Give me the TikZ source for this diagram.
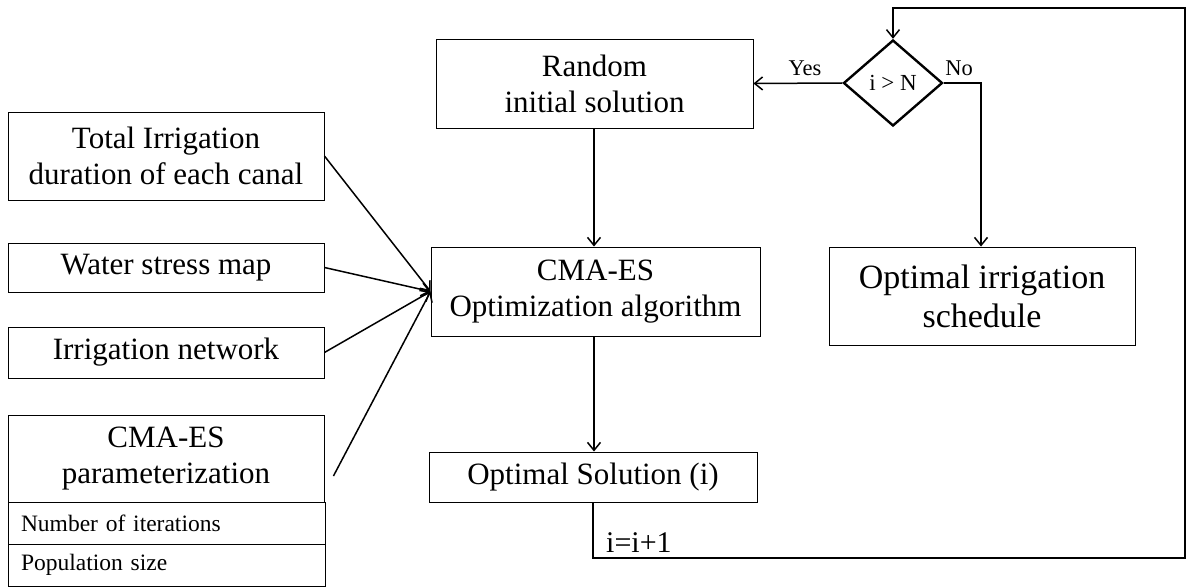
\documentclass[tikz,border=0pt]{standalone}
\usepackage{fontspec}
\setmainfont{Liberation Serif}
\usetikzlibrary{arrows.meta,shapes.geometric,calc}
\begin{document}
\begin{tikzpicture}[x=1pt,y=-1pt,
  box/.style={draw, line width=0.9pt, inner sep=0pt, align=center},
  arr/.style={line width=1.5pt, -{Straight Barb[length=8pt,width=13pt,line width=1.5pt]}},
  bigtext/.style={font=\fontsize{31}{36}\selectfont},
  hugetext/.style={font=\fontsize{34}{39}\selectfont},
  smalltext/.style={font=\fontsize{23.5}{26}\selectfont},
  labeltext/.style={font=\fontsize{22.5}{24}\selectfont, inner sep=0pt}
]
\useasboundingbox (0,0) rectangle (1187,588);

% left inputs
\node[box, bigtext, minimum width=316pt, minimum height=88pt] (tot) at (166,156) {Total Irrigation\\duration of each canal};
\node[box, bigtext, minimum width=316pt, minimum height=49pt] (wsm) at (166,267.5) {Water stress map};
\node[box, bigtext, minimum width=316pt, minimum height=51pt] (net) at (166,352.5) {Irrigation network};
\node[box, bigtext, minimum width=316pt, minimum height=87pt] (par) at (166,458.5) {CMA-ES\\parameterization};
\node[box, smalltext, minimum width=317pt, minimum height=42pt, text width=291pt, align=left] (nit) at (166.5,523) {Number of iterations};
\node[box, smalltext, minimum width=317pt, minimum height=42pt, text width=291pt, align=left] (pop) at (166.5,565) {Population size};

% middle column
\node[box, bigtext, minimum width=317pt, minimum height=89pt] (rnd) at (594.5,83.5) {Random\\initial solution};
\node[box, bigtext, minimum width=329pt, minimum height=89pt] (cma) at (595.5,291.5) {CMA-ES\\Optimization algorithm};
\node[box, bigtext, minimum width=328pt, minimum height=50pt] (opt) at (593,477) {Optimal Solution (i)};

% decision and output
\node[diamond, draw, line width=2.4pt, aspect=1.15, minimum width=99pt, minimum height=86pt, inner sep=0pt, font=\fontsize{23}{24}\selectfont] (dia) at (893,83) {i > N};
\node[box, hugetext, minimum width=306pt, minimum height=98pt] (ois) at (982,296) {Optimal irrigation\\schedule};

% loop corners
\coordinate (c1) at (1185,558);
\coordinate (c2) at (1185,8);

% connectors
\draw[arr] (tot.east) -- (cma.west);
\draw[arr] (wsm.east) -- (cma.west);
\draw[arr] (net.east) -- (cma.west);
\draw[arr] ([shift={(9,17.5)}]par.east) -- (cma.west);

\draw[arr] ([xshift=-0.5pt]rnd.south) -- ([xshift=-0.5pt]rnd.south |- cma.north);
\draw[arr] ([xshift=-1.5pt]cma.south) -- ([xshift=-1.5pt]cma.south |- opt.north);
\draw[arr] (dia.west) -- (rnd.east);
\draw[arr] (dia.east) -| ([xshift=-1pt]ois.north);
\draw[arr] (opt.south) |- (c1) -- (c2) -| (dia.north);

% labels
\node[labeltext, anchor=south] (yes) at (805,76) {Yes};
\node[labeltext, anchor=south] (no) at (959,76) {No};
\node[labeltext, font=\fontsize{30}{32}\selectfont, anchor=base west] (inc) at (606,552) {i=i+1};
\end{tikzpicture}
\end{document}
